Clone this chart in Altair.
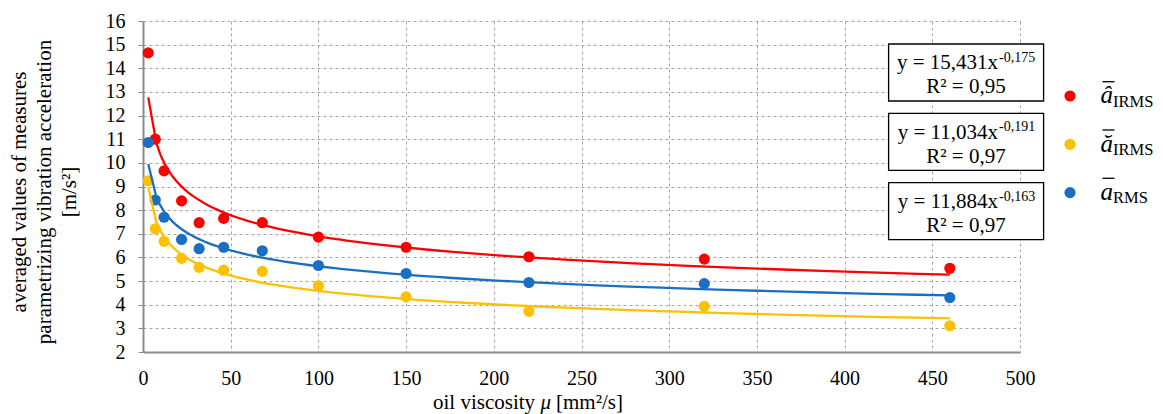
import altair as alt
import pandas as pd

# ---- data ----
viscosity = [3, 7, 12, 22, 32, 46, 68, 100, 150, 220, 320, 460]
a_hat_irms = [14.65, 11.00, 9.66, 8.39, 7.47, 7.65, 7.47, 6.86, 6.43, 6.03, 5.93, 5.54]
a_breve_irms = [9.24, 7.21, 6.68, 5.96, 5.58, 5.46, 5.41, 4.80, 4.33, 3.72, 3.93, 3.11]
a_rms = [10.86, 8.43, 7.70, 6.76, 6.37, 6.43, 6.28, 5.66, 5.32, 4.94, 4.89, 4.30]

series_keys = ["a_hat_IRMS", "a_breve_IRMS", "a_RMS"]
series_colors = ["#FF0000", "#FFC000", "#1A6FC2"]

eq_main = ["y = 15,431x", "y = 11,034x", "y = 11,884x"]
eq_exp = ["-0,175", "-0,191", "-0,163"]
eq_r2 = ["R² = 0,95", "R² = 0,97", "R² = 0,97"]

legend_base = ["â", "ă", "a"]
legend_sub = ["IRMS", "IRMS", "RMS"]

x_ticks = list(range(0, 501, 50))
y_ticks = list(range(2, 17))

y_title = ["averaged values of measures", "parametrizing vibration acceleration", "[m/s²]"]
x_title_parts = ["oil viscosity", "μ", "[mm²/s]"]

FONT = "Liberation Serif"

rows = []
for key, vals in zip(series_keys, [a_hat_irms, a_breve_irms, a_rms]):
    for xv, yv in zip(viscosity, vals):
        rows.append({"series": key, "x": xv, "y": yv})
df = pd.DataFrame(rows)

color_scale = alt.Scale(domain=series_keys, range=series_colors)

axis_style = dict(
    labelFont=FONT, labelFontSize=20, labelColor="black", labelOverlap=False,
    labelFlush=False, gridColor="#a6a6a6", gridDash=[3, 3], gridWidth=1,
    domainColor="#8c8c8c", domainWidth=2, title=None,
)

x_enc = alt.X(
    "x:Q",
    scale=alt.Scale(domain=[0, 500], nice=False),
    axis=alt.Axis(values=x_ticks, ticks=False, tickSize=0, labelPadding=16, **axis_style),
)
y_enc = alt.Y(
    "y:Q",
    scale=alt.Scale(domain=[2, 16], nice=False, zero=False),
    axis=alt.Axis(
        values=y_ticks, tickSize=5, tickColor="#8c8c8c", tickWidth=1,
        labelPadding=13, **axis_style,
    ),
)
color_enc = alt.Color("series:N", scale=color_scale, legend=None)

base = alt.Chart(df)
points = base.mark_circle(size=125, opacity=1).encode(x=x_enc, y=y_enc, color=color_enc)
lines = base.transform_regression(
    "x", "y", method="pow", groupby=["series"]
).mark_line(strokeWidth=2.3).encode(x=x_enc, y=y_enc, color=color_enc)

one = pd.DataFrame({"k": [0]})
layers = [points, lines]

# y-axis title, three rotated lines
for i, line in enumerate(y_title):
    layers.append(
        alt.Chart(pd.DataFrame({"t": [line]})).mark_text(
            angle=270, align="center", baseline="middle", font=FONT, fontSize=21, color="black"
        ).encode(text="t:N", x=alt.value(-123 + 25 * i), y=alt.value(171))
    )

# x-axis title with italic mu
x_title_pos = [290, 397.5, 413]
for part, xp in zip(x_title_parts, x_title_pos):
    layers.append(
        alt.Chart(pd.DataFrame({"t": [part]})).mark_text(
            align="left", baseline="alphabetic", font=FONT, fontSize=21, color="black",
            fontStyle="italic" if part == "μ" else "normal",
        ).encode(text="t:N", x=alt.value(xp), y=alt.value(388))
    )

BOX_DY = 69.3
for i in range(3):
    dy = i * BOX_DY
    layers.append(
        alt.Chart(one).mark_rect(fill="white", stroke="black", strokeWidth=1.3).encode(
            x=alt.value(745.6), x2=alt.value(900.6), y=alt.value(23 + dy), y2=alt.value(80 + dy)
        )
    )
    layers.append(
        alt.Chart(pd.DataFrame({"t": [eq_main[i]]})).mark_text(
            align="right", baseline="alphabetic", font=FONT, fontSize=21, color="black"
        ).encode(text="t:N", x=alt.value(855), y=alt.value(48.3 + dy))
    )
    layers.append(
        alt.Chart(pd.DataFrame({"t": [eq_exp[i]]})).mark_text(
            align="left", baseline="alphabetic", font=FONT, fontSize=14, color="black"
        ).encode(text="t:N", x=alt.value(856), y=alt.value(41 + dy))
    )
    layers.append(
        alt.Chart(pd.DataFrame({"t": [eq_r2[i]]})).mark_text(
            align="center", baseline="alphabetic", font=FONT, fontSize=21, color="black"
        ).encode(text="t:N", x=alt.value(823), y=alt.value(72.3 + dy))
    )

LEG_DY = 48.3
for i in range(3):
    dy = i * LEG_DY
    layers.append(
        alt.Chart(one).mark_circle(size=125, opacity=1, color=series_colors[i]).encode(
            x=alt.value(927), y=alt.value(75 + dy)
        )
    )
    layers.append(
        alt.Chart(pd.DataFrame({"t": [legend_base[i]]})).mark_text(
            align="left", baseline="alphabetic", font=FONT, fontSize=25,
            fontStyle="italic", color="black"
        ).encode(text="t:N", x=alt.value(957.5), y=alt.value(82.3 + dy))
    )
    layers.append(
        alt.Chart(pd.DataFrame({"t": [legend_sub[i]]})).mark_text(
            align="left", baseline="alphabetic", font=FONT, fontSize=16.5, color="black"
        ).encode(text="t:N", x=alt.value(970), y=alt.value(85.7 + dy))
    )
    layers.append(
        alt.Chart(one).mark_rule(color="black", strokeWidth=1.3).encode(
            x=alt.value(959.5), x2=alt.value(971.5), y=alt.value(60.7 + dy)
        )
    )

chart = alt.layer(*layers).properties(
    width=877,
    height=331,
    autosize=alt.AutoSizeParams(type="none"),
    padding={"left": 143, "top": 21, "right": 143, "bottom": 62},
).configure_view(stroke="transparent").configure_axis(
    labelFont=FONT, labelFontSize=20, labelColor="black",
)

chart.save("out.html", embed_options={"renderer": "svg", "actions": False})
